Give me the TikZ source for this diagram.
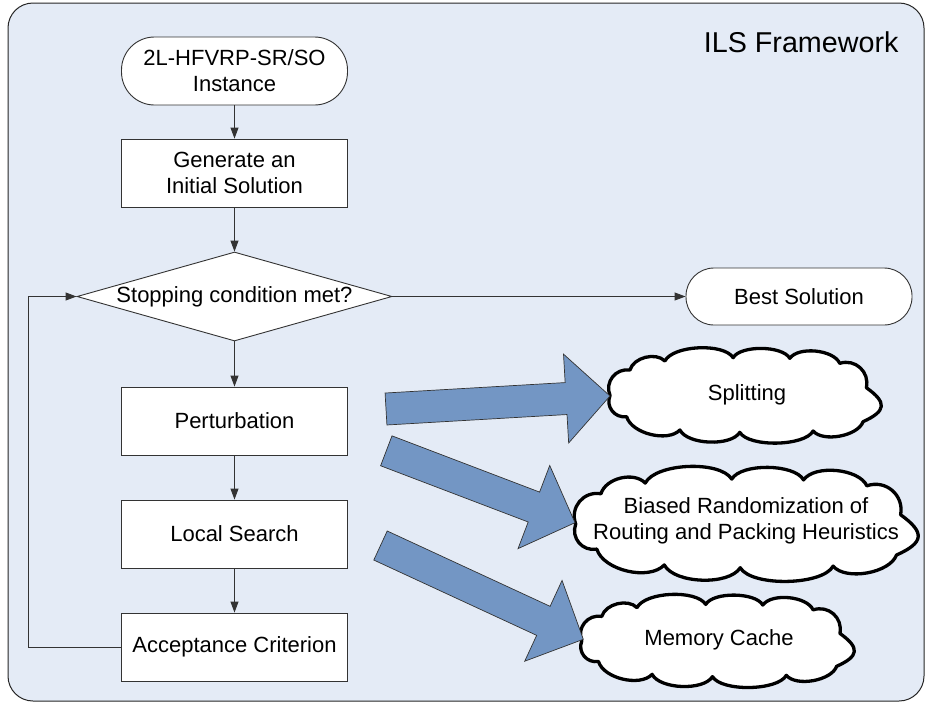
\documentclass[tikz,border=0pt]{standalone}
\usepackage{fontspec}
\setmainfont{Liberation Sans}
\usetikzlibrary{shapes.geometric,arrows.meta,calc}
\definecolor{bgblue}{HTML}{E4EBF6}
\definecolor{arrowblue}{HTML}{7396C4}
\definecolor{linegray}{HTML}{333333}
\tikzset{
  txt/.style={font=\fontsize{22}{26}\selectfont},
  proc/.style={txt, draw=linegray, line width=0.9pt, fill=white, minimum width=226pt, minimum height=68pt, inner sep=0pt, align=center},
  term/.style={proc, rounded corners=33pt},
  decision/.style={txt, diamond, draw=linegray, line width=0.9pt, fill=white, aspect=3.54, minimum width=315pt, minimum height=89pt, inner sep=0pt},
  conn/.style={draw=linegray, line width=0.9pt, -{Triangle[length=11pt,width=8pt]}},
  cloudline/.style={draw=black, line width=3.3pt, fill=white, line join=round},
  cloudtext/.style={txt, align=center, inner sep=0pt},
  barrow/.style={draw=linegray, line width=0.7pt, fill=arrowblue, line join=miter},
}
% #1,#2 centre; #3,#4 half width and half height
\newcommand\cloudat[4]{%
  \path ({#1-#3},{#2}) coordinate (k0)
    ({#1-0.854*#3},{#2-0.56*#4}) coordinate (k1)
    ({#1-0.598*#3},{#2-0.758*#4}) coordinate (k2)
    ({#1-0.098*#3},{#2-0.832*#4}) coordinate (k3)
    ({#1+0.317*#3},{#2-0.817*#4}) coordinate (k4)
    ({#1+0.683*#3},{#2-0.707*#4}) coordinate (k5)
    ({#1+0.878*#3},{#2-0.172*#4}) coordinate (k6)
    ({#1+0.854*#3},{#2+0.575*#4}) coordinate (k7)
    ({#1+0.488*#3},{#2+0.78*#4}) coordinate (k8)
    ({#1-0.049*#3},{#2+0.81*#4}) coordinate (k9)
    ({#1-0.488*#3},{#2+0.758*#4}) coordinate (k10)
    ({#1-0.878*#3},{#2+0.465*#4}) coordinate (k11);
  \filldraw[cloudline] (k0)
    .. controls ($(k0)!0.45!60:(k1)$) and ($(k1)!0.45!-60:(k0)$) .. (k1)
    .. controls ($(k1)!0.36!60:(k2)$) and ($(k2)!0.36!-60:(k1)$) .. (k2)
    .. controls ($(k2)!0.26!60:(k3)$) and ($(k3)!0.26!-60:(k2)$) .. (k3)
    .. controls ($(k3)!0.26!60:(k4)$) and ($(k4)!0.26!-60:(k3)$) .. (k4)
    .. controls ($(k4)!0.3!60:(k5)$) and ($(k5)!0.3!-60:(k4)$) .. (k5)
    .. controls ($(k5)!0.45!60:(k6)$) and ($(k6)!0.45!-60:(k5)$) .. (k6)
    .. controls ($(k6)!0.75!60:(k7)$) and ($(k7)!0.75!-60:(k6)$) .. (k7)
    .. controls ($(k7)!0.3!60:(k8)$) and ($(k8)!0.3!-60:(k7)$) .. (k8)
    .. controls ($(k8)!0.24!60:(k9)$) and ($(k9)!0.24!-60:(k8)$) .. (k9)
    .. controls ($(k9)!0.28!60:(k10)$) and ($(k10)!0.28!-60:(k9)$) .. (k10)
    .. controls ($(k10)!0.32!60:(k11)$) and ($(k11)!0.32!-60:(k10)$) .. (k11)
    .. controls ($(k11)!0.45!60:(k0)$) and ($(k0)!0.45!-60:(k11)$) .. (k0) -- cycle;
}
\newcommand\blockarrow[2]{%
  \path (#1) coordinate (bt) (#2) coordinate (bp) ($(#2)!44pt!(#1)$) coordinate (bb);
  \draw[barrow] ($(bt)!16pt!90:(bp)$) -- ($(bb)!16pt!-90:(bt)$) -- ($(bb)!44.5pt!-90:(bt)$) -- (bp)
     -- ($(bb)!44.5pt!90:(bt)$) -- ($(bb)!16pt!90:(bt)$) -- ($(bt)!16pt!-90:(bp)$) -- cycle;
}
\begin{document}
\begin{tikzpicture}[x=1pt,y=-1pt]
\useasboundingbox (0,0) rectangle (925,702);
\draw[draw=black!85, line width=1pt, fill=bgblue, rounded corners=25pt] (8,3) rectangle (924,701);
\node[font=\fontsize{28.7}{32}\selectfont, anchor=base east] (title) at (902,52) {ILS Framework};

\node[term] (start) at (234.5,71) {2L-HFVRP-SR/SO\\Instance};
\node[proc] (gen) at (234.5,173) {Generate an\\Initial Solution};
\node[decision] (dia) at (234.5,296.5) {Stopping condition met?};
\node[proc] (pert) at (234.5,421) {Perturbation};
\node[proc] (ls) at (234.5,534) {Local Search};
\node[proc] (acc) at (234.5,647) {Acceptance Criterion};
\node[term, minimum height=57pt, rounded corners=28pt] (best) at (799,296.5) {Best Solution};

\coordinate (loopx) at (28,0);
\draw[conn] (start) -- (gen);
\draw[conn] (gen) -- (dia);
\draw[conn] (dia) -- (pert);
\draw[conn] (pert) -- (ls);
\draw[conn] (ls) -- (acc);
\draw[conn] (dia.east) -- (best.west);
\draw[conn] (acc.west) -- (acc.west -| loopx) |- (dia.west);

\cloudat{746.5}{395.5}{136.5}{45.5}
\node[cloudtext] (c1) at (747,395) {Splitting};
\cloudat{748.7}{524}{173}{54}
\node[cloudtext] (c2) at (746,521) {Biased Randomization of\\Routing and Packing Heuristics};
\cloudat{719.2}{641}{137.5}{44}
\node[cloudtext] (c3) at (719,640) {Memory Cache};

\coordinate (t1) at (386,409);
\coordinate (p1) at (610,396);
\coordinate (t2) at (386.3,450.8);
\coordinate (p2) at (575,522.7);
\coordinate (t3) at (380.5,545.5);
\coordinate (p3) at (583.3,639.3);
\blockarrow{t1}{p1}
\blockarrow{t2}{p2}
\blockarrow{t3}{p3}
\end{tikzpicture}
\end{document}
